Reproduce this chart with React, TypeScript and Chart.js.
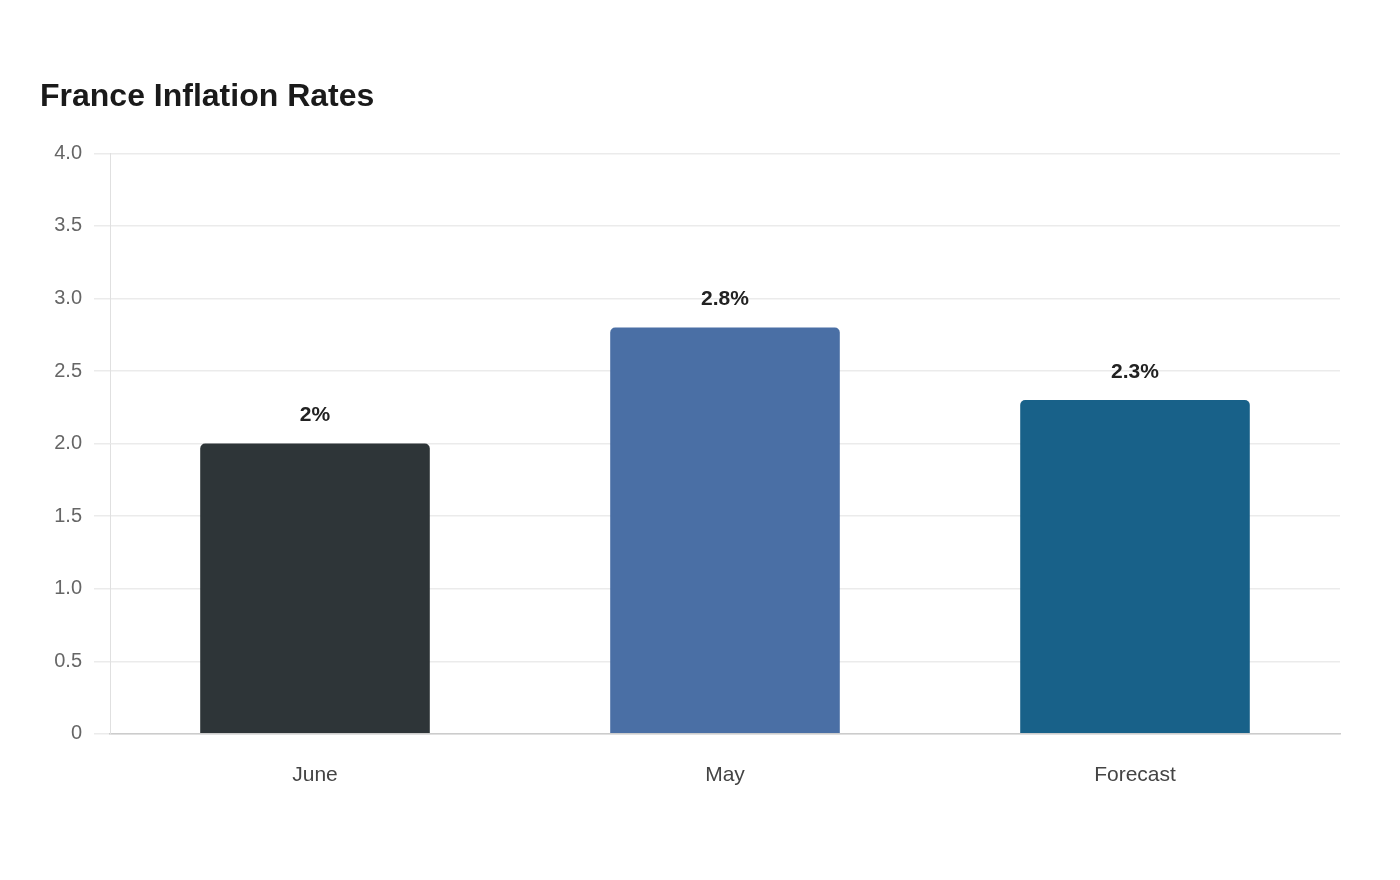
import React, { useEffect, useRef } from "react";
import { Chart, registerables } from "chart.js";

Chart.register(...registerables);

const categories: string[] = ["June", "May", "Forecast"];
const values: number[] = [2.0, 2.8, 2.3];
const valueLabels: string[] = ["2%", "2.8%", "2.3%"];
const barColors: string[] = ["#2e3538", "#4a6fa5", "#186189"];
const titleText = "France Inflation Rates";

const FONT = "'Liberation Sans', Arial, sans-serif";

const valueLabelPlugin = {
  id: "valueLabels",
  afterDatasetsDraw(chart: any) {
    const ctx = chart.ctx;
    const meta = chart.getDatasetMeta(0);
    ctx.save();
    ctx.font = `bold 21px ${FONT}`;
    ctx.fillStyle = "#222222";
    ctx.textAlign = "center";
    ctx.textBaseline = "middle";
    meta.data.forEach((bar: any, i: number) => {
      ctx.fillText(valueLabels[i], bar.x, bar.y - 28);
    });
    ctx.restore();
  },
};

export default function App() {
  const ref = useRef<HTMLCanvasElement | null>(null);
  useEffect(() => {
    if (!ref.current) return;
    const chart = new Chart(ref.current, {
      type: "bar",
      data: {
        labels: categories,
        datasets: [
          {
            data: values,
            backgroundColor: barColors,
            borderRadius: { topLeft: 5, topRight: 5, bottomLeft: 0, bottomRight: 0 },
            borderSkipped: false,
            categoryPercentage: 0.8,
            barPercentage: 0.7,
          },
        ],
      },
      options: {
        responsive: false,
        animation: false,
        layout: { padding: { left: 40, right: 60, top: 78, bottom: 63 } },
        plugins: {
          legend: { display: false },
          tooltip: { enabled: false },
          title: {
            display: true,
            text: titleText,
            align: "start",
            color: "#1a1a1a",
            font: { family: FONT, size: 32, weight: "bold", lineHeight: 1.2 },
            padding: { top: 0, bottom: 37 },
          },
        },
        scales: {
          x: {
            grid: { display: false, drawTicks: false },
            border: { display: true, color: "#cccccc", width: 1.5 },
            ticks: {
              color: "#444444",
              font: { family: FONT, size: 21 },
              padding: 29,
            },
          },
          y: {
            min: 0,
            max: 4,
            grid: { color: "#ebebeb", tickLength: 16, lineWidth: 1.5 },
            border: { display: true, color: "#e0e0e0" },
            afterFit: (scale: any) => {
              scale.width = 70;
            },
            ticks: {
              stepSize: 0.5,
              color: "#666666",
              font: { family: FONT, size: 20 },
              padding: 12,
              callback: (v: any) => (Number(v) === 0 ? "0" : Number(v).toFixed(1)),
            },
          },
        },
      },
      plugins: [valueLabelPlugin],
    });
    return () => chart.destroy();
  }, []);
  return (
    <div style={{ position: "fixed", left: 0, top: 0, width: 1400, height: 880, background: "#ffffff" }}>
      <canvas ref={ref} width={1400} height={880} style={{ display: "block" }} />
    </div>
  );
}
